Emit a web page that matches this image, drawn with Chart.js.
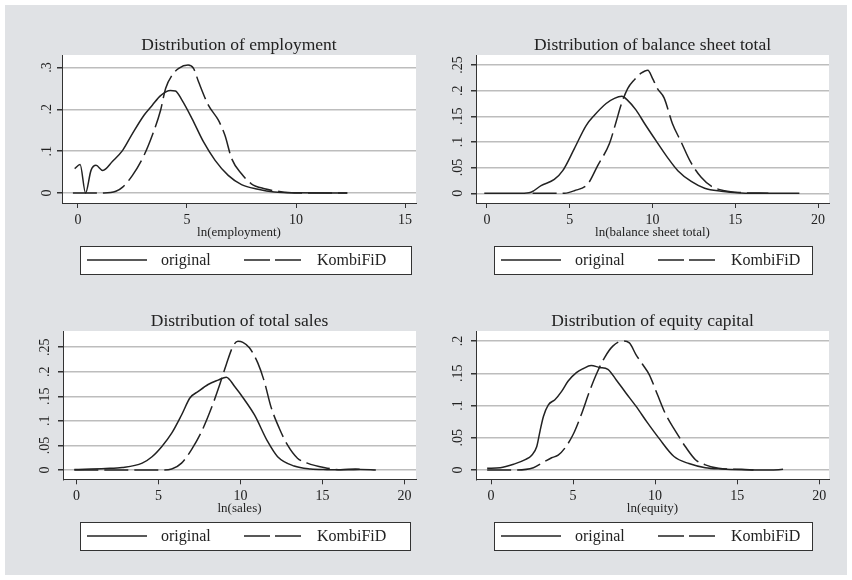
<!DOCTYPE html>
<html>
<head>
<meta charset="utf-8">
<title>Distributions: original vs KombiFiD</title>
<script src="https://cdn.jsdelivr.net/npm/chart.js@4.4.1/dist/chart.umd.min.js"></script>
<style>
  html, body { margin: 0; padding: 0; background: #ffffff; }
  #wrap { position: relative; width: 852px; height: 580px; }
  #bg { position: absolute; left: 5px; top: 5px; width: 842px; height: 570px; background: #e0e2e5; }
  canvas { position: absolute; }
</style>
</head>
<body>
<div id="wrap">
  <div id="bg"></div>
  <canvas id="empChart" width="426" height="290" style="left:0;top:0"></canvas>
  <canvas id="balChart" width="426" height="290" style="left:426px;top:0"></canvas>
  <canvas id="salesChart" width="426" height="290" style="left:0;top:290px"></canvas>
  <canvas id="equityChart" width="426" height="290" style="left:426px;top:290px"></canvas>
</div>
<script>
const seriesNames = ["original", "KombiFiD"];

// ln(employment)
const empOrigX = [-0.15, 0.1, 0.35, 0.6, 0.83, 1.14, 1.59, 2.05, 2.5, 3.03, 3.41, 3.79, 4.24, 4.47, 4.77, 5.23, 5.76, 6.29, 6.89, 7.5, 8.26, 9.0, 9.9, 12.35];
const empOrigY = [0.058, 0.068, 0.0, 0.054, 0.066, 0.054, 0.076, 0.102, 0.142, 0.186, 0.21, 0.233, 0.245, 0.244, 0.222, 0.178, 0.122, 0.078, 0.042, 0.02, 0.009, 0.0025, 0.0005, 0];
const empKombiX = [-0.23, 1.2, 1.74, 2.05, 2.5, 3.03, 3.41, 3.79, 4.02, 4.32, 4.62, 5.05, 5.3, 5.53, 5.98, 6.44, 6.74, 7.05, 7.5, 7.95, 8.56, 9.17, 9.92, 12.35];
const empKombiY = [0, 0, 0.004, 0.014, 0.042, 0.09, 0.138, 0.198, 0.25, 0.282, 0.298, 0.306, 0.298, 0.266, 0.21, 0.174, 0.138, 0.082, 0.046, 0.022, 0.010, 0.004, 0, 0];

// ln(balance sheet total)
const balOrigX = [-0.16, 2.06, 2.66, 3.27, 4.07, 4.58, 5.28, 5.99, 6.49, 7.2, 7.7, 8.15, 8.5, 9.01, 9.52, 10.2, 10.9, 11.53, 12.34, 13.15, 14.15, 15.36, 16.6, 18.87];
const balOrigY = [0, 0, 0.002, 0.015, 0.027, 0.044, 0.087, 0.132, 0.152, 0.175, 0.185, 0.189, 0.181, 0.162, 0.136, 0.103, 0.070, 0.044, 0.023, 0.0098, 0.004, 0.0007, 0, 0];
const balKombiX = [2.76, 4.68, 5.28, 6.09, 6.69, 7.4, 7.8, 8.1, 8.5, 8.9, 9.31, 9.72, 10.0, 10.3, 10.7, 11.2, 11.73, 12.3, 12.94, 13.55, 14.35, 15.36, 17.0];
const balKombiY = [0, 0, 0.005, 0.018, 0.054, 0.097, 0.139, 0.172, 0.204, 0.221, 0.234, 0.240, 0.224, 0.204, 0.186, 0.136, 0.1, 0.061, 0.031, 0.0137, 0.005, 0.0013, 0];

// ln(sales)
const salesOrigX = [-0.14, 1.77, 2.78, 4.0, 4.6, 5.2, 5.8, 6.4, 6.92, 7.42, 8.02, 8.63, 9.13, 9.64, 10.24, 10.85, 11.65, 12.26, 13.27, 14.27, 15.28, 16.5, 17.3, 18.25];
const salesOrigY = [0.001, 0.003, 0.005, 0.014, 0.027, 0.048, 0.075, 0.112, 0.147, 0.16, 0.174, 0.183, 0.189, 0.17, 0.143, 0.112, 0.058, 0.027, 0.008, 0.002, 0.0007, 0.0003, 0.001, 0];
const salesKombiX = [-0.14, 5.2, 5.8, 6.4, 7.0, 7.62, 8.22, 8.73, 9.13, 9.54, 9.84, 10.14, 10.54, 11.05, 11.45, 11.85, 12.36, 12.86, 13.47, 14.07, 15.08, 16.1, 17.0, 17.6];
const salesKombiY = [0, 0, 0.002, 0.014, 0.041, 0.078, 0.126, 0.174, 0.215, 0.252, 0.262, 0.260, 0.249, 0.218, 0.18, 0.129, 0.085, 0.051, 0.024, 0.014, 0.005, 0.0007, 0.002, 0.001];

// ln(equity)
const eqOrigX = [-0.24, 0.56, 1.37, 2.08, 2.48, 2.78, 2.98, 3.19, 3.49, 3.89, 4.3, 4.7, 5.2, 5.6, 6.1, 6.61, 7.12, 7.62, 8.23, 8.83, 9.54, 10.24, 11.15, 12.06, 13.06, 14.07, 15.28, 17.0, 17.8];
const eqOrigY = [0.0026, 0.0036, 0.009, 0.016, 0.023, 0.036, 0.06, 0.083, 0.101, 0.109, 0.122, 0.138, 0.151, 0.157, 0.162, 0.159, 0.156, 0.140, 0.119, 0.099, 0.073, 0.049, 0.021, 0.010, 0.0036, 0.0016, 0.0005, 0, 0.001];
const eqKombiX = [-0.24, 1.37, 2.58, 3.19, 3.69, 4.09, 4.5, 5.0, 5.5, 6.0, 6.41, 6.91, 7.42, 8.02, 8.43, 8.83, 9.23, 9.64, 10.14, 10.65, 11.25, 11.85, 12.46, 13.06, 13.87, 15.28, 16.0];
const eqKombiY = [0, 0, 0.0036, 0.012, 0.019, 0.023, 0.034, 0.055, 0.086, 0.122, 0.148, 0.174, 0.192, 0.200, 0.197, 0.179, 0.164, 0.148, 0.117, 0.086, 0.06, 0.036, 0.016, 0.008, 0.0026, 0.001, 0];

const serif = "'Liberation Serif', 'Times New Roman', serif";
const ink = "#222222";
const dashPattern = [24, 6];

function toPoints(xs, ys) {
  return xs.map((x, i) => ({ x: x, y: ys[i] }));
}

function formatTick(value) {
  if (Math.abs(value) < 1e-9) return "0";
  return String(parseFloat(value.toFixed(2))).replace(/^0\./, ".");
}

// white plot region + boxed Stata-style legend under the x axis
const stataFrame = {
  id: "stataFrame",
  beforeDraw(chart) {
    const a = chart.chartArea;
    const ctx = chart.ctx;
    ctx.save();
    ctx.fillStyle = "#ffffff";
    ctx.fillRect(a.left, a.top, a.right - a.left, a.bottom - a.top);
    ctx.restore();
  },
  afterDraw(chart, args, opts) {
    const a = chart.chartArea;
    const ctx = chart.ctx;
    const left = Math.round(a.left + opts.left);
    const right = Math.round(a.right - opts.right);
    const top = Math.round(a.bottom + 43);
    const h = 28;
    const mid = top + h / 2;
    const sets = chart.data.datasets;

    ctx.save();
    ctx.fillStyle = "#ffffff";
    ctx.fillRect(left, top, right - left, h);
    ctx.strokeStyle = "#333333";
    ctx.lineWidth = 1;
    ctx.strokeRect(left + 0.5, top + 0.5, right - left, h);

    ctx.strokeStyle = ink;
    ctx.lineWidth = 1.5;
    ctx.beginPath();
    ctx.moveTo(left + 7, mid);
    ctx.lineTo(left + 67, mid);
    ctx.stroke();

    ctx.setLineDash([26, 5]);
    ctx.beginPath();
    ctx.moveTo(left + 164, mid);
    ctx.lineTo(left + 221, mid);
    ctx.stroke();
    ctx.setLineDash([]);

    ctx.fillStyle = ink;
    ctx.font = "16px " + serif;
    ctx.textBaseline = "middle";
    ctx.textAlign = "left";
    ctx.fillText(sets[0].label, left + 81, mid + 1);
    ctx.fillText(sets[1].label, left + 237, mid + 1);
    ctx.restore();
  }
};

function makePanel(id, cfg) {
  const ctx = document.getElementById(id).getContext("2d");
  return new Chart(ctx, {
    type: "line",
    data: {
      datasets: [
        {
          label: seriesNames[0],
          data: toPoints(cfg.origX, cfg.origY),
          borderColor: ink,
          borderWidth: 1.5,
          pointRadius: 0,
          cubicInterpolationMode: "monotone",
          fill: false
        },
        {
          label: seriesNames[1],
          data: toPoints(cfg.kombiX, cfg.kombiY),
          borderColor: ink,
          borderWidth: 1.5,
          borderDash: dashPattern,
          pointRadius: 0,
          cubicInterpolationMode: "monotone",
          fill: false
        }
      ]
    },
    options: {
      responsive: false,
      animation: false,
      devicePixelRatio: 1,
      layout: {
        padding: { left: cfg.padLeft, right: cfg.padRight, top: 0, bottom: cfg.padBottom }
      },
      plugins: {
        legend: { display: false },
        tooltip: { enabled: false },
        title: {
          display: true,
          text: cfg.title,
          fullSize: false,
          color: ink,
          font: { family: serif, size: 17.5, weight: "normal", lineHeight: 1 },
          padding: { top: cfg.titleTop, bottom: cfg.titleBottom }
        },
        stataFrame: { left: cfg.legLeft, right: cfg.legRight }
      },
      scales: {
        x: {
          type: "linear",
          min: cfg.xMin,
          max: cfg.xMax,
          afterFit: (scale) => { scale.height = 45; },
          border: { display: true, color: "#333333", width: 1 },
          grid: { drawOnChartArea: false, drawTicks: true, tickLength: 5, tickColor: "#333333" },
          ticks: {
            stepSize: 5,
            includeBounds: false,
            autoSkip: false,
            maxRotation: 0,
            padding: 4,
            color: ink,
            font: { family: serif, size: 14 }
          },
          title: {
            display: true,
            text: cfg.xTitle,
            color: ink,
            font: { family: serif, size: 13 },
            padding: { top: 0, bottom: 8 }
          }
        },
        y: {
          type: "linear",
          min: cfg.yMin,
          max: cfg.yMax,
          afterFit: (scale) => { scale.width = 28; },
          border: { display: true, color: "#333333", width: 1 },
          grid: { color: "#bdbdbd", lineWidth: 1.5, drawTicks: true, tickLength: 5, tickColor: "#333333" },
          ticks: {
            stepSize: cfg.yStep,
            includeBounds: false,
            autoSkip: false,
            minRotation: 90,
            maxRotation: 90,
            crossAlign: "center",
            padding: 4,
            color: ink,
            font: { family: serif, size: 14 },
            callback: (value) => formatTick(value)
          }
        }
      }
    },
    plugins: [stataFrame]
  });
}

makePanel("empChart", {
  title: "Distribution of employment",
  xTitle: "ln(employment)",
  origX: empOrigX, origY: empOrigY, kombiX: empKombiX, kombiY: empKombiY,
  xMin: -0.73, xMax: 15.5, yMin: -0.024, yMax: 0.33, yStep: 0.1,
  padLeft: 34, padRight: 10, padBottom: 42,
  titleTop: 36.25, titleBottom: 1.25,
  legLeft: 18, legRight: 5
});

makePanel("balChart", {
  title: "Distribution of balance sheet total",
  xTitle: "ln(balance sheet total)",
  origX: balOrigX, origY: balOrigY, kombiX: balKombiX, kombiY: balKombiY,
  xMin: -0.66, xMax: 20.66, yMin: -0.019, yMax: 0.2695, yStep: 0.05,
  padLeft: 22, padRight: 23, padBottom: 42,
  titleTop: 36.25, titleBottom: 1.25,
  legLeft: 18, legRight: 17
});

makePanel("salesChart", {
  title: "Distribution of total sales",
  xTitle: "ln(sales)",
  origX: salesOrigX, origY: salesOrigY, kombiX: salesKombiX, kombiY: salesKombiY,
  xMin: -0.83, xMax: 20.7, yMin: -0.019, yMax: 0.283, yStep: 0.05,
  padLeft: 35, padRight: 10, padBottom: 55.7,
  titleTop: 22.95, titleBottom: 0.55,
  legLeft: 17, legRight: 6
});

makePanel("equityChart", {
  title: "Distribution of equity capital",
  xTitle: "ln(equity)",
  origX: eqOrigX, origY: eqOrigY, kombiX: eqKombiX, kombiY: eqKombiY,
  xMin: -0.92, xMax: 20.6, yMin: -0.0144, yMax: 0.2155, yStep: 0.05,
  padLeft: 22, padRight: 23, padBottom: 55.7,
  titleTop: 22.95, titleBottom: 0.55,
  legLeft: 18, legRight: 17
});
</script>
</body>
</html>
